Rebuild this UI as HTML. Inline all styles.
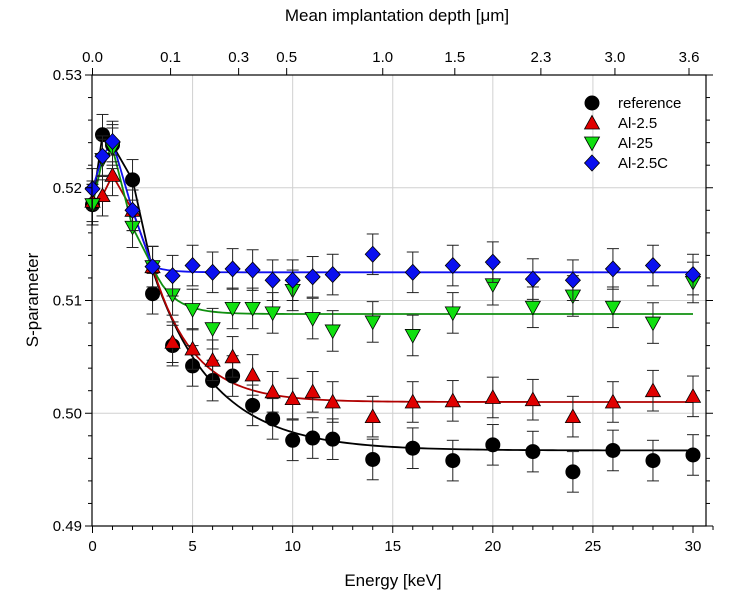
<!DOCTYPE html>
<html><head><meta charset="utf-8"><style>
body{margin:0;background:#fff;}
svg{display:block;font-family:"Liberation Sans",Arial,sans-serif;}
</style></head><body>
<svg id="chart" width="730" height="601" viewBox="0 0 730 601" xmlns="http://www.w3.org/2000/svg">
<g id="grid"></g>
<g id="curves"></g>
<g id="marks"></g>
<g id="axes"></g>
<text x="393" y="586" font-size="17" text-anchor="middle">Energy [keV]</text>
<text x="397" y="21" font-size="17" text-anchor="middle">Mean implantation depth [μm]</text>
<text transform="translate(38,300) rotate(-90)" font-size="17" text-anchor="middle">S-parameter</text>
<g id="legend"></g>
</svg>
<script>
const energies=[0,0.5,1,2,3,4,5,6,7,8,9,10,11,12,14,16,18,20,22,24,26,28,30];
const refVals=[0.5185,0.5247,0.5238,0.5207,0.5106,0.5060,0.5042,0.5029,0.5033,0.5007,0.4995,0.4976,0.4978,0.4977,0.4959,0.4969,0.4958,0.4972,0.4966,0.4948,0.4967,0.4958,0.4963];
const al25Vals=[0.5188,0.5193,0.5211,0.5180,0.5130,0.5063,0.5057,0.5047,0.5050,0.5034,0.5019,0.5013,0.5019,0.5010,0.4997,0.5010,0.5011,0.5014,0.5012,0.4997,0.5010,0.5020,0.5015];
const al25bVals=[0.5185,0.5225,0.5235,0.5165,0.5130,0.5105,0.5092,0.5075,0.5093,0.5093,0.5089,0.5109,0.5084,0.5073,0.5081,0.5069,0.5089,0.5114,0.5094,0.5104,0.5094,0.5080,0.5116];
const al25cVals=[0.5199,0.5228,0.5241,0.5180,0.5130,0.5122,0.5131,0.5125,0.5128,0.5127,0.5118,0.5118,0.5121,0.5123,0.5141,0.5125,0.5131,0.5134,0.5119,0.5118,0.5128,0.5131,0.5123];
const errVal=0.0018;
const xTicks=[0,5,10,15,20,25,30];
const yTicks=[0.49,0.50,0.51,0.52,0.53];
const topLabels=["0.0","0.1","0.3","0.5","1.0","1.5","2.3","3.0","3.6"];
const topEnergies=[0,3.9,7.3,9.7,14.5,18.1,22.4,26.1,29.8];
const fitPlateau=[0.4967,0.5010,0.5088,0.5125];
const fitAmp=[0.0160,0.0120,0.0042,0.0005];
const fitTau=[3.05,2.04,1.0,0.8];
const names=["reference","Al-2.5","Al-25","Al-2.5C"];

const X0=92.5,X1=693,L=92,R=706,T=75,B=526;
const sx=e=>X0+(X1-X0)*e/30;
const sy=v=>526-(v-0.49)/0.04*451;
const NS="http://www.w3.org/2000/svg";
function mk(tag,attrs,parent){const el=document.createElementNS(NS,tag);for(const k in attrs)el.setAttribute(k,attrs[k]);parent.appendChild(el);return el;}
const grid=document.getElementById('grid'),axes=document.getElementById('axes'),marks=document.getElementById('marks'),curves=document.getElementById('curves'),legend=document.getElementById('legend');

xTicks.forEach(t=>{if(t>0&&t<30){const g=mk('line',{x1:sx(t),x2:sx(t),y1:T,y2:B,stroke:'#d0d0d0','stroke-width':1},grid);}});
yTicks.forEach(t=>{if(t>0.4901&&t<0.5299){const g=mk('line',{x1:L,x2:R,y1:sy(t),y2:sy(t),stroke:'#d0d0d0','stroke-width':1},grid);}});

const box=mk('rect',{x:L,y:T,width:R-L,height:B-T,fill:'none',stroke:'#000','stroke-width':1.2},axes);

for(let e=0;e<=31;e++){const major=e%5===0;const len=major?7:4;
 mk('line',{x1:sx(e),x2:sx(e),y1:B,y2:B+len,stroke:'#000'},axes);}
xTicks.forEach(t=>{const tx=mk('text',{x:sx(t),y:B+25,'font-size':15,'text-anchor':'middle'},axes);tx.textContent=t;});
for(let i=0;i<=20;i++){const v=0.49+i*0.002;const major=i%5===0;const len=major?7:4;
 mk('line',{x1:L-len,x2:L,y1:sy(v),y2:sy(v),stroke:'#000'},axes);
 mk('line',{x1:R,x2:R+len,y1:sy(v),y2:sy(v),stroke:'#000'},axes);}
yTicks.forEach(t=>{const tx=mk('text',{x:L-10,y:sy(t)+5,'font-size':15,'text-anchor':'end'},axes);tx.textContent=t.toFixed(2);});
topEnergies.forEach((e,i)=>{mk('line',{x1:sx(e),x2:sx(e),y1:T-7,y2:T,stroke:'#000'},axes);
 const tx=mk('text',{x:sx(e),y:T-13,'font-size':15,'text-anchor':'middle'},axes);tx.textContent=topLabels[i];});

const series=[refVals,al25Vals,al25bVals,al25cVals];
const colors=['#000000','#e00000','#10e010','#0a10f0'];
const lineColors=['#000000','#b00000','#109010','#1010f0'];
function marker(type,x,y,color,parent){
 let el;
 if(type===0) el=mk('circle',{cx:x,cy:y,r:7,fill:color,stroke:'#000'},parent);
 else if(type===1) el=mk('polygon',{points:`${x},${y-7.5} ${x+7.5},${y+6} ${x-7.5},${y+6}`,fill:color,stroke:'#000','stroke-width':0.8},parent);
 else if(type===2) el=mk('polygon',{points:`${x},${y+7.5} ${x+7.5},${y-6} ${x-7.5},${y-6}`,fill:color,stroke:'#000','stroke-width':0.8},parent);
 else el=mk('polygon',{points:`${x},${y-8} ${x+7.5},${y} ${x},${y+8} ${x-7.5},${y}`,fill:color,stroke:'#000','stroke-width':0.8},parent);
 return el;
}
series.forEach((vals,s)=>{
 let pts=[];
 energies.forEach((e,i)=>{if(e<3)pts.push([sx(e),sy(vals[i])]);});
 for(let e=3;e<=30.001;e+=0.25){pts.push([sx(e),sy(fitPlateau[s]+fitAmp[s]*Math.exp(-(e-3)/fitTau[s]))]);}
 const c=mk('polyline',{points:pts.map(p=>p.join(',')).join(' '),fill:'none',stroke:lineColors[s],'stroke-width':1.8},curves);
 
 const g=mk('g',{},marks);
 
 
 energies.forEach((e,i)=>{
  const x=sx(e),y1=sy(vals[i]-errVal),y2=sy(vals[i]+errVal);
  mk('line',{x1:x,x2:x,y1:y1,y2:y2,stroke:'#222'},g);
  mk('line',{x1:x-6,x2:x+6,y1:y1,y2:y1,stroke:'#222'},g);
  mk('line',{x1:x-6,x2:x+6,y1:y2,y2:y2,stroke:'#222'},g);
 });
 energies.forEach((e,i)=>{
  const m=marker(s,sx(e),sy(vals[i]),colors[s],g);
  
  
 });
});
names.forEach((n,s)=>{
 const y=103+s*20;
 const m=marker(s,592,y,colors[s],legend);
 
 
 const t=mk('text',{x:618,y:y+5,'font-size':15},legend);t.textContent=n;
 
 
});
</script>
</body></html>
